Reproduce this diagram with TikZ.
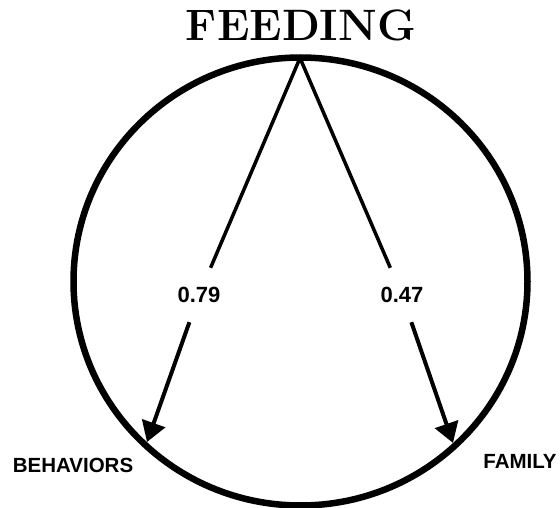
\documentclass[tikz,border=0pt]{standalone}
\usepackage{fontspec}
\usepackage{tikz}
\usetikzlibrary{arrows.meta}
\newfontfamily\labfont{Liberation Sans}

\tikzset{
  lab/.style={font=\labfont\bfseries\fontsize{20.5}{21}\selectfont, inner sep=0pt},
  val/.style={font=\labfont\bfseries\fontsize{22}{22}\selectfont, inner sep=0pt, minimum height=54pt, minimum width=46pt},
  path/.style={black, line width=3.5pt},
  effect/.style={black, line width=4pt, -{Triangle[length=20pt,width=24pt]}}
}

\begin{document}
\begin{tikzpicture}[x=1pt, y=-1pt]
\useasboundingbox (0,0) rectangle (560,508);

% circle
\draw[line width=6.5pt] (300.5,281.5) ellipse [x radius=227pt, y radius=224pt];

% Heading
\node (title) at (301,25) {\fontsize{44}{44}\selectfont\bfseries FEEDING};

\coordinate (apex) at (300,58);
\coordinate (tipB) at (147,442);
\coordinate (tipF) at (453,443);

% loadings
\node[val] (v79) at (199,295) {0.79};
\node[val] (v47) at (402,295) {0.47};

% outcomes
\node[lab] (beh) at (73,465) {BEHAVIORS};
\node[lab] (fam) at (520,461) {FAMILY};

%------------------------------------------------------
\draw[path]   (apex) -- (v79);
\draw[path]   (apex) -- (v47);
\draw[effect] (v79) -- (tipB);
\draw[effect] (v47) -- (tipF);
\end{tikzpicture}
\end{document}
